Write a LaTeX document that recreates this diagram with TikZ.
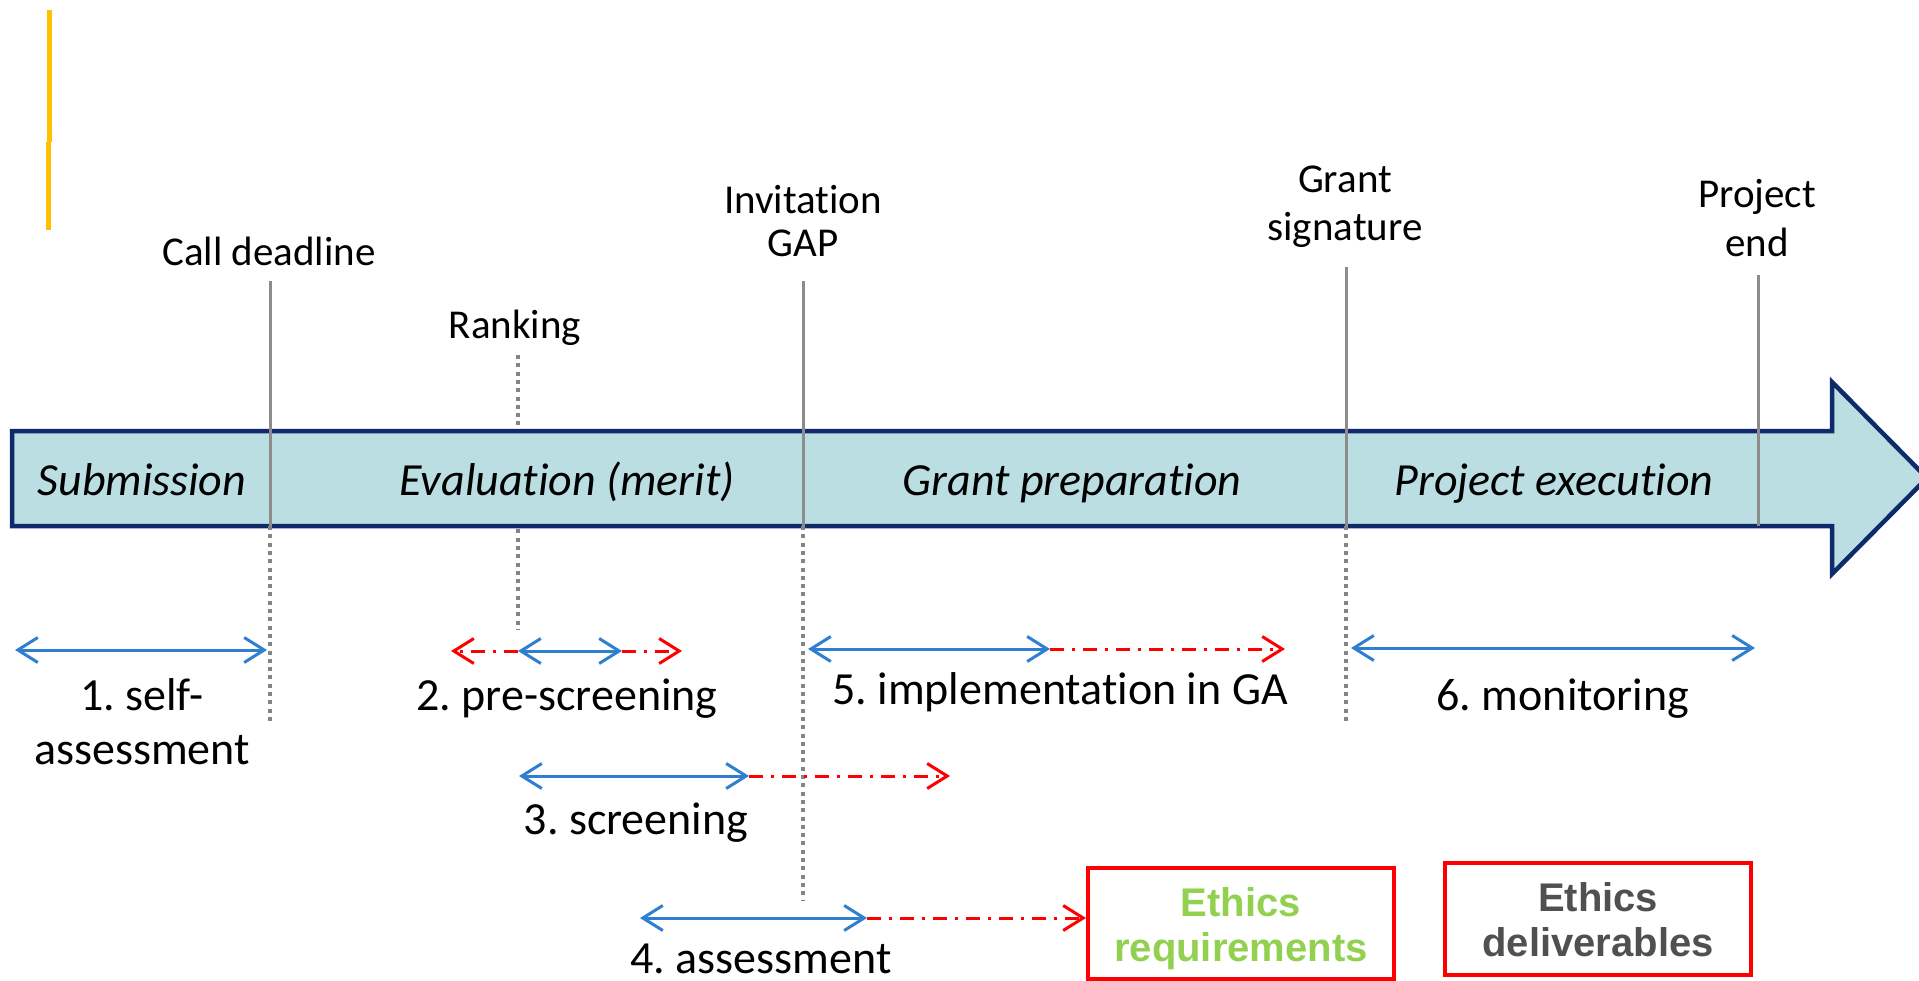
\documentclass[tikz,border=0pt]{standalone}
\usepackage{fontspec}
\setmainfont{Carlito}[Ligatures={NoCommon,NoContextual}]
\newfontfamily\arialfont{Liberation Sans}
\usetikzlibrary{arrows.meta}
\definecolor{navy}{HTML}{0E2A6A}
\definecolor{barfill}{HTML}{BBDEE2}
\definecolor{lineblue}{HTML}{2F7FD0}
\definecolor{gridgray}{HTML}{8C8C8C}
\definecolor{dotgray}{HTML}{858585}
\definecolor{ethgreen}{HTML}{92D050}
\definecolor{ethgray}{HTML}{505050}
\definecolor{gold}{HTML}{FFC000}
\definecolor{ethred}{HTML}{FF0000}
\frenchspacing
\begin{document}
\begin{tikzpicture}[x=1pt,y=-1pt,
  toplbl/.style={font=\fontsize{41}{43}\selectfont, anchor=base, inner sep=0pt},
  phaselbl/.style={font=\fontsize{46}{50}\selectfont\itshape, anchor=base, inner sep=0pt},
  steplbl/.style={font=\fontsize{46}{50}\selectfont, anchor=base, inner sep=0pt},
  ethlbl/.style={font=\fontsize{40}{44}\selectfont\arialfont\bfseries, anchor=base, inner sep=0pt},
  mline/.style={draw=gridgray, line width=3pt},
  dotline/.style={draw=dotgray, line width=4pt, dash pattern=on 4pt off 4.3pt},
  bluearr/.style={draw=lineblue, line width=3pt, {Straight Barb[length=20pt,width=25pt]}-{Straight Barb[length=20pt,width=25pt]}},
  redarr/.style={draw=ethred, line width=3pt, dash pattern=on 14pt off 8pt on 3pt off 8pt, -{Straight Barb[length=20pt,width=25pt]}},
  ethbox/.style={draw=ethred, line width=4pt}]
\useasboundingbox (0,0) rectangle (1919,981);

% yellow mark
\draw[gold, line width=4.5pt] (49.5,10) -- (49.5,142);
\draw[gold, line width=4.5pt] (48.3,142) -- (48.3,230);

% ranking dotted line (behind the bar)
\coordinate (rk0) at (518,355);
\coordinate (rk1) at (518,630);
\draw[dotline] (rk0) -- (rk1);

% timeline bar
\draw[navy, line width=4.5pt, fill=barfill, line join=miter]
  (12,431) -- (1832,431) -- (1832,382) -- (1927,478) -- (1832,574) -- (1832,526) -- (12,526) -- cycle;

% milestone labels
\node[toplbl] (cd) at (269,266) {Call deadline};
\node[toplbl] (rk) at (515,339) {Ranking};
\node[toplbl] (inv1) at (803,214) {Invitation};
\node[toplbl] (inv2) at (803,257) {GAP};
\node[toplbl] (gs1) at (1345,193) {Grant};
\node[toplbl] (gs2) at (1345,241) {signature};
\node[toplbl] (pe1) at (1757,208) {Project};
\node[toplbl] (pe2) at (1757,257) {end};

% milestone lines
\coordinate (cdA) at (270,281); \coordinate (cdB) at (270,526); \coordinate (cdC) at (270,722);
\draw[mline] (cdA) -- (cdB); \draw[dotline] (cdB) -- (cdC);
\coordinate (gpA) at (803,281); \coordinate (gpB) at (803,526); \coordinate (gpC) at (803,900);
\draw[mline] (gpA) -- (gpB); \draw[dotline] (gpB) -- (gpC);
\coordinate (gsA) at (1346,267); \coordinate (gsB) at (1346,526); \coordinate (gsC) at (1346,722);
\draw[mline] (gsA) -- (gsB); \draw[dotline] (gsB) -- (gsC);
\coordinate (peA) at (1758,275); \coordinate (peB) at (1758,526);
\draw[mline] (peA) -- (peB);

% phase labels
\node[phaselbl] (ph1) at (142,495) {Submission};
\node[phaselbl] (ph2) at (567,495) {Evaluation (merit)};
\node[phaselbl] (ph3) at (1072,495) {Grant preparation};
\node[phaselbl] (ph4) at (1554,495) {Project execution};

% step 1
\coordinate (s1a) at (15,650); \coordinate (s1b) at (267,650);
\draw[bluearr] (s1a) -- (s1b);
\node[steplbl] (l1a) at (142,710) {1. self-};
\node[steplbl] (l1b) at (142,764) {assessment};

% step 2
\coordinate (s2l) at (451,651); \coordinate (s2a) at (518,651); \coordinate (s2b) at (622,651); \coordinate (s2r) at (682,651);
\draw[redarr] (s2a) -- (s2l);
\draw[redarr] (s2b) -- (s2r);
\draw[bluearr] (s2a) -- (s2b);
\node[steplbl] (l2) at (567,710) {2. pre-screening};

% step 3
\coordinate (s3a) at (519,776); \coordinate (s3b) at (749,776); \coordinate (s3r) at (950,776);
\draw[redarr] (s3b) -- (s3r);
\draw[bluearr] (s3a) -- (s3b);
\node[steplbl] (l3) at (636,834) {3. screening};

% step 4 and ethics boxes
\node[ethbox, minimum width=306pt, minimum height=111pt] (eb1) at (1241,923.5) {};
\node[ethbox, minimum width=306pt, minimum height=112pt] (eb2) at (1598,919) {};
\coordinate (s4a) at (640,918); \coordinate (s4b) at (867,918);
\draw[redarr] (s4b) -- (s4b -| eb1.west);
\draw[bluearr] (s4a) -- (s4b);
\node[steplbl] (l4) at (761,973) {4. assessment};
\node[ethlbl, text=ethgreen] (e1a) at (1241,916) {Ethics};
\node[ethlbl, text=ethgreen] (e1b) at (1241,961) {requirements};
\node[ethlbl, text=ethgray] (e2a) at (1598,911) {Ethics};
\node[ethlbl, text=ethgray] (e2b) at (1598,956) {deliverables};

% step 5
\coordinate (s5a) at (808,649); \coordinate (s5b) at (1050,649); \coordinate (s5r) at (1285,649);
\draw[redarr] (s5b) -- (s5r);
\draw[bluearr] (s5a) -- (s5b);
\node[steplbl] (l5) at (1060,704) {5. implementation in GA};

% step 6
\coordinate (s6a) at (1351,648); \coordinate (s6b) at (1755,648);
\draw[bluearr] (s6a) -- (s6b);
\node[steplbl] (l6) at (1563,710) {6. monitoring};
\end{tikzpicture}
\end{document}
